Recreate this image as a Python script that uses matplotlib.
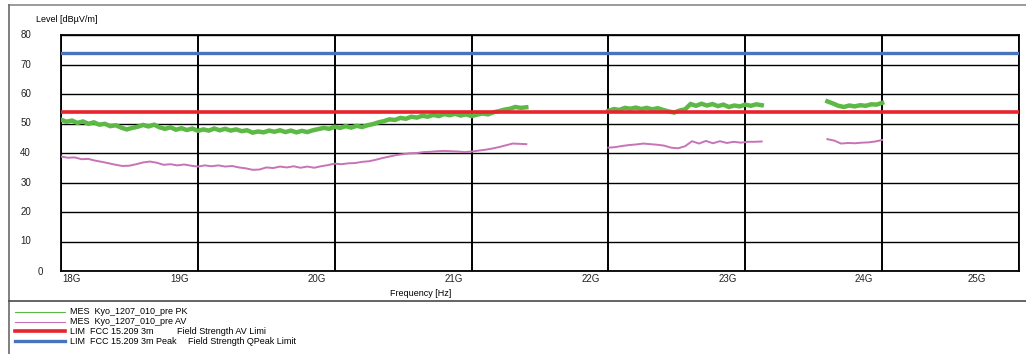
import numpy as np
import matplotlib
matplotlib.use("Agg")
import matplotlib.pyplot as plt
from matplotlib.lines import Line2D
from matplotlib.transforms import ScaledTranslation

plt.rcParams['font.family'] = ['Liberation Sans', 'DejaVu Sans']

# sweep segments (GHz) of the measured traces
pk_seg1 = (18.00, 21.40)
pk_seg2 = (22.00, 23.12)
pk_seg3 = (23.60, 24.00)

# peak detector trace, dBuV/m
pk1 = [51.3, 50.6, 51.0, 50.2, 50.7, 49.9, 50.4, 49.6, 49.9, 49.1,
       49.4, 48.6, 48.0, 48.5, 48.9, 49.5, 49.0, 49.6, 48.7, 48.2,
       48.7, 47.9, 48.4, 47.8, 48.3, 47.5, 48.0, 47.6, 48.3, 47.7,
       48.2, 47.6, 48.0, 47.4, 47.7, 46.9, 47.3, 47.0, 47.6, 47.2,
       47.7, 47.1, 47.6, 47.0, 47.5, 47.1, 47.7, 48.1, 48.5, 48.2,
       48.9, 48.5, 49.1, 48.6, 49.2, 48.8, 49.4, 49.8, 50.4, 50.8,
       51.4, 51.2, 51.9, 51.6, 52.3, 52.0, 52.6, 52.3, 52.9, 52.5,
       53.2, 52.8, 53.3, 52.7, 53.1, 52.5, 53.0, 53.4, 53.1, 53.8,
       54.2, 54.7, 55.0, 55.6, 55.3, 55.5]
pk2 = [54.3, 54.9, 54.6, 55.3, 55.0, 55.4, 54.9, 55.3, 54.8, 55.2,
       54.6, 54.1, 53.7, 54.4, 54.8, 56.6, 56.0, 56.7, 56.1, 56.6,
       55.9, 56.4, 55.6, 56.1, 55.8, 56.4, 56.0, 56.5, 56.2]
pk3 = [57.5, 56.8, 56.0, 55.6, 56.1, 55.8, 56.2, 56.0, 56.5, 56.4, 57.0]

# average detector trace, dBuV/m
av1 = [38.8, 38.4, 38.5, 37.9, 38.0, 37.4, 37.0, 36.5, 36.0, 35.6,
       35.7, 36.2, 36.8, 37.1, 36.7, 36.0, 36.2, 35.8, 36.1, 35.7,
       35.4, 35.8, 35.5, 35.8, 35.4, 35.6, 35.1, 34.8, 34.3, 34.4,
       35.1, 34.9, 35.4, 35.1, 35.5, 35.0, 35.4, 35.0, 35.5, 35.9,
       36.4, 36.2, 36.5, 36.6, 37.0, 37.2, 37.7, 38.3, 38.8, 39.3,
       39.6, 39.9, 40.0, 40.3, 40.4, 40.6, 40.7, 40.6, 40.5, 40.3,
       40.5, 40.8, 41.1, 41.5, 42.0, 42.6, 43.2, 43.1, 43.0]
av2 = [41.8, 42.0, 42.4, 42.7, 42.9, 43.2, 43.0, 42.8, 42.5, 41.8,
       41.6, 42.3, 44.0, 43.2, 44.1, 43.3, 44.0, 43.4, 43.8, 43.5,
       43.8, 43.8, 43.9]
av3 = [44.7, 44.2, 43.2, 43.4, 43.3, 43.5, 43.6, 43.9, 44.4]

lim_av = 54.0
lim_pk = 74.0

x_ticks = [18, 19, 20, 21, 22, 23, 24, 25]
x_labels = ["18G", "19G", "20G", "21G", "22G", "23G", "24G", "25G"]
y_ticks = [0, 10, 20, 30, 40, 50, 60, 70, 80]

legend_rows = [
    ("MES  Kyo_1207_010_pre PK", ""),
    ("MES  Kyo_1207_010_pre AV", ""),
    ("LIM  FCC 15.209 3m", "Field Strength AV Limi"),
    ("LIM  FCC 15.209 3m Peak", "Field Strength QPeak Limit"),
]

GREEN = "#5cb946"
PINK = "#c872b8"
RED = "#e8232d"
BLUE = "#4a72bd"

W, H = 1026, 354
fig = plt.figure(figsize=(W / 100, H / 100), dpi=100)
ax = fig.add_axes([61 / W, 1 - 271 / H, (1019 - 61) / W, (271 - 35) / H])

def px(dx, dy):
    return ScaledTranslation(dx / 100, dy / 100, fig.dpi_scale_trans)

for (f0, f1), vals in zip([pk_seg1, pk_seg2, pk_seg3], [pk1, pk2, pk3]):
    ax.plot(np.linspace(f0, f1, len(vals)), vals, color=GREEN, lw=3.2,
            solid_joinstyle="miter", zorder=3)
for (f0, f1), vals in zip([pk_seg1, pk_seg2, pk_seg3], [av1, av2, av3]):
    ax.plot(np.linspace(f0, f1, len(vals)), vals, color=PINK, lw=1.4, zorder=3)

ax.axhline(lim_av, color=RED, lw=2.6, zorder=4)
ax.axhline(lim_pk, color=BLUE, lw=2.4, zorder=4)

ax.set_xlim(18, 25)
ax.set_ylim(0, 80)
ax.set_xticks(x_ticks)
ax.set_yticks(y_ticks)
ax.tick_params(length=0, labelbottom=False, labelleft=False)
ax.xaxis.grid(True, color="black", lw=1.4)
ax.yaxis.grid(True, color="black", lw=1.0)
ax.set_axisbelow(True)
for s in ax.spines.values():
    s.set_color("black")
    s.set_linewidth(1.3)

# axis labels, placed like the analyser software does
for i, (f, lab) in enumerate(zip(x_ticks, x_labels)):
    if i == 0:
        ax.text(f, 0, lab, ha="left", va="center", fontsize=7, color="#222222",
                transform=ax.get_xaxis_transform() + px(1, -8.5))
    else:
        dx = -42 if i == len(x_ticks) - 1 else -18
        ax.text(f, 0, lab, ha="center", va="center", fontsize=7, color="#222222",
                transform=ax.get_xaxis_transform() + px(dx, -8.5))
for v in y_ticks:
    dx = -18 if v == 0 else -30
    dy = -1 if v == 0 else 0
    ax.text(0, v, str(v), ha="right", va="center", fontsize=7, color="#222222",
            transform=ax.get_yaxis_transform() + px(dx, dy))

fig.text(36 / W, 1 - 19 / H, "Level [dBµV/m]", ha="left", va="center", fontsize=6.5)
fig.text(421 / W, 1 - 293 / H, "Frequency [Hz]", ha="center", va="center", fontsize=6.5)

# frame around chart and legend
fig.add_artist(Line2D([9 / W, 1], [1 - 5 / H, 1 - 5 / H], color="#8a8a8a", lw=1.2))
fig.add_artist(Line2D([9 / W, 9 / W], [0, 1 - 5 / H], color="#6a6a6a", lw=1.2))
fig.add_artist(Line2D([9 / W, 1], [1 - 301 / H, 1 - 301 / H], color="#4a4a4a", lw=1.2))

# legend
leg_styles = [(GREEN, 0.8), (PINK, 0.8), (RED, 2.6), (BLUE, 2.4)]
for k, ((t1, t2), (c, lw)) in enumerate(zip(legend_rows, leg_styles)):
    y = 1 - (312 + 9.7 * k) / H
    fig.add_artist(Line2D([15 / W, 65 / W], [y, y], color=c, lw=lw))
    fig.text(70 / W, y, t1, ha="left", va="center", fontsize=6.5)
    if t2:
        x2 = 177 if k == 2 else 188
        fig.text(x2 / W, y, t2, ha="left", va="center", fontsize=6.5)

fig.savefig("out.png", dpi=100)
